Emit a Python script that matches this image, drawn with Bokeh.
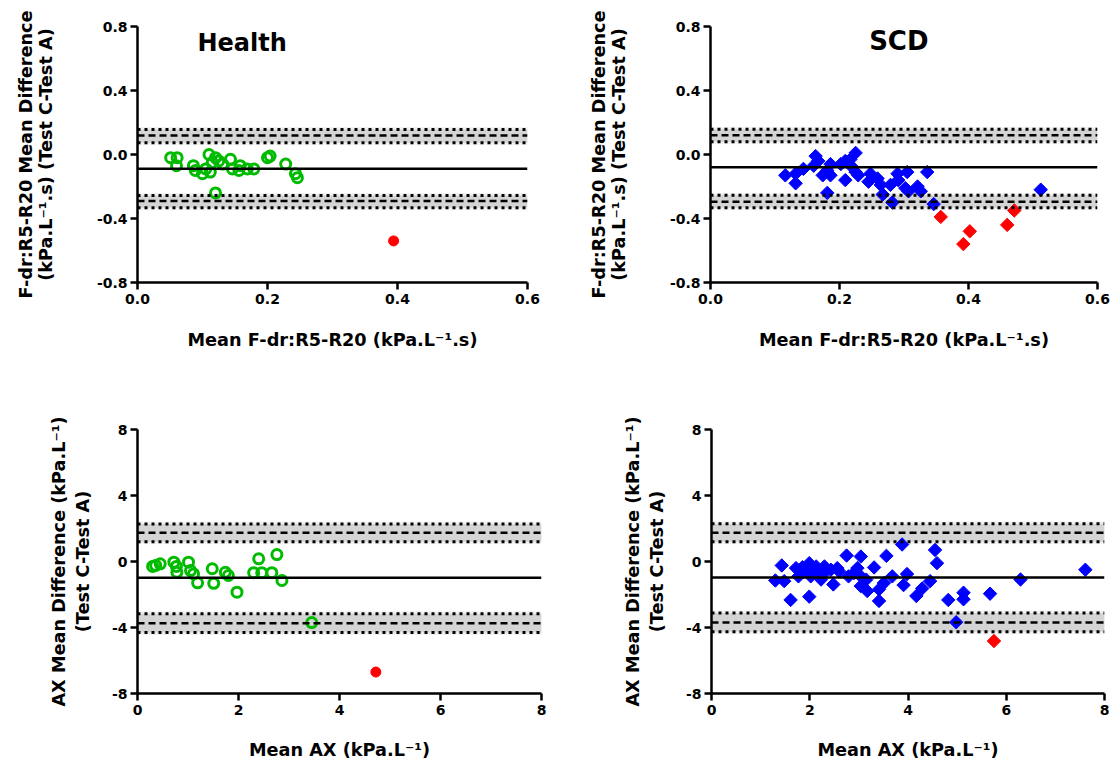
from bokeh.plotting import figure
from bokeh.layouts import column, row
from bokeh.models import Range1d, FixedTicker, PrintfTickFormatter, BoxAnnotation, Span, Label
from bokeh.embed import file_html
from bokeh.resources import INLINE
import numpy as np

FONT = "DejaVu Sans"

# ---------------- data ----------------
# Health, F-dr:R5-R20 (mean, difference)
health_fdr_x = [0.051, 0.061, 0.060, 0.086, 0.089, 0.100, 0.110, 0.112, 0.120, 0.125, 0.120, 0.143,
                0.146, 0.156, 0.169, 0.179, 0.200, 0.204, 0.228, 0.243, 0.246, 0.115, 0.131, 0.158, 0.105]
health_fdr_y = [-0.02, -0.02, -0.07, -0.07, -0.10, -0.12, 0.00, -0.11, -0.02, -0.04, -0.24, -0.03,
                -0.09, -0.10, -0.09, -0.09, -0.02, -0.01, -0.06, -0.12, -0.145, -0.05, -0.06, -0.07, -0.09]
health_fdr_out_x = [0.394]
health_fdr_out_y = [-0.54]

# SCD, F-dr:R5-R20
scd_fdr_x = [0.116, 0.132, 0.132, 0.144, 0.160, 0.163, 0.167, 0.174, 0.181, 0.181, 0.186, 0.186, 0.202,
             0.209, 0.209, 0.217, 0.220, 0.225, 0.225, 0.229, 0.245, 0.248, 0.259, 0.264, 0.267, 0.279,
             0.282, 0.290, 0.291, 0.305, 0.302, 0.307, 0.321, 0.326, 0.336, 0.346, 0.512]
scd_fdr_y = [-0.13, -0.18, -0.12, -0.09, -0.07, -0.01, -0.04, -0.13, -0.10, -0.24, -0.06, -0.13, -0.06,
             -0.04, -0.16, -0.03, -0.08, 0.01, -0.11, -0.13, -0.17, -0.12, -0.15, -0.19, -0.25, -0.19,
             -0.30, -0.12, -0.16, -0.11, -0.21, -0.23, -0.20, -0.23, -0.11, -0.31, -0.22]
scd_fdr_out_x = [0.357, 0.402, 0.392, 0.460, 0.471]
scd_fdr_out_y = [-0.39, -0.48, -0.56, -0.44, -0.35]

# Health, AX
health_ax_x = [0.30, 0.36, 0.45, 0.72, 0.77, 0.78, 1.01, 1.05, 1.11, 1.19, 1.48, 1.51, 1.74, 1.80,
               1.97, 2.30, 2.40, 2.46, 2.66, 2.76, 2.86, 3.45]
health_ax_y = [-0.30, -0.24, -0.14, -0.04, -0.30, -0.65, -0.04, -0.55, -0.75, -1.29, -0.44, -1.32,
               -0.65, -0.85, -1.86, -0.68, 0.16, -0.68, -0.68, 0.42, -1.15, -3.70]
health_ax_out_x = [4.72]
health_ax_out_y = [-6.7]

# SCD, AX
scd_ax_x = [1.30, 1.43, 1.48, 1.61, 1.72, 1.77, 1.85, 1.89, 1.99, 1.99, 2.02, 2.05, 2.13, 2.16, 2.23,
            2.29, 2.30, 2.43, 2.48, 2.56, 2.60, 2.75, 2.79, 2.90, 2.97, 3.04, 3.04, 3.04, 3.15, 3.17,
            3.31, 3.41, 3.41, 3.51, 3.56, 3.68, 3.88, 3.91, 3.98, 4.17, 4.29, 4.45, 4.55, 4.59, 4.82,
            4.98, 5.13, 5.13, 5.67, 6.29, 7.61]
scd_ax_y = [-1.15, -0.24, -1.19, -2.33, -0.40, -0.90, -0.35, -0.60, -0.10, -2.13, -0.90, -0.50, -0.30,
            -0.70, -1.09, -0.70, -0.30, -0.50, -1.39, -0.40, -0.60, 0.36, -0.90, -0.70, -0.40, 0.30,
            -0.90, -1.49, -1.10, -1.79, -0.36, -2.39, -1.69, -1.30, 0.34, -0.90, 1.03, -1.43, -0.76,
            -2.09, -1.63, -1.19, 0.70, -0.10, -2.33, -3.68, -1.89, -2.29, -1.95, -1.09, -0.50]
scd_ax_out_x = [5.75]
scd_ax_out_y = [-4.82]

# Bland-Altman lines: bias, upper LoA (lo, mid, hi), lower LoA (lo, mid, hi)
health_fdr_bias = -0.089
health_fdr_upper = [0.073, 0.119, 0.156]
health_fdr_lower = [-0.333, -0.290, -0.256]
scd_fdr_bias = -0.080
scd_fdr_upper = [0.080, 0.121, 0.158]
scd_fdr_lower = [-0.333, -0.295, -0.255]
health_ax_bias = -0.99
health_ax_upper = [1.19, 1.74, 2.28]
health_ax_lower = [-4.30, -3.74, -3.17]
scd_ax_bias = -0.97
scd_ax_upper = [1.19, 1.75, 2.29]
scd_ax_lower = [-4.26, -3.70, -3.12]

fdr_xticks = [0.0, 0.2, 0.4, 0.6]
fdr_yticks = [-0.8, -0.4, 0.0, 0.4, 0.8]
ax_xticks = [0, 2, 4, 6, 8]
ax_yticks = [-8, -4, 0, 4, 8]

fdr_xlabel = "Mean F-dr:R5-R20 (kPa.L\u207b\u00b9.s)"
fdr_ylabel = "F-dr:R5-R20 Mean Difference\n(kPa.L\u207b\u00b9.s) (Test C-Test A)"
ax_xlabel = "Mean AX (kPa.L\u207b\u00b9)"
ax_ylabel = "AX Mean Difference (kPa.L\u207b\u00b9)\n(Test C-Test A)"

GREEN = "#00bb00"
BLUE = "#0000ff"
RED = "#ff0000"
BAND = "#d4d4d4"


def make_panel(width, height, bl, bt, fw, fh, xr, yr, xticks, yticks, fmt,
               xlabel, ylabel, ylab_standoff, ylab_lh, xlab_standoff):
    p = figure(width=width, height=height, output_backend="svg", toolbar_location=None,
               x_range=Range1d(*xr), y_range=Range1d(*yr),
               min_border_left=bl, min_border_top=bt,
               min_border_right=width - bl - fw, min_border_bottom=height - bt - fh)
    p.xgrid.visible = False
    p.ygrid.visible = False
    p.outline_line_color = None
    for ax, ticks, f in ((p.xaxis[0], xticks, fmt[0]), (p.yaxis[0], yticks, fmt[1])):
        ax.ticker = FixedTicker(ticks=ticks)
        ax.formatter = PrintfTickFormatter(format=f)
        ax.axis_line_width = 2.5
        ax.axis_line_color = "black"
        ax.major_tick_line_width = 2.5
        ax.major_tick_line_color = "black"
        ax.major_tick_out = 7
        ax.major_tick_in = 0
        ax.minor_tick_line_color = None
        ax.major_label_text_font = FONT
        ax.major_label_text_font_style = "bold"
        ax.major_label_text_font_size = "14px"
        ax.major_label_text_color = "black"
        ax.axis_label_text_font = FONT
        ax.axis_label_text_font_style = "bold"
        ax.axis_label_text_font_size = "17.7px"
        ax.axis_label_text_color = "black"
    p.xaxis[0].major_label_standoff = 4
    p.yaxis[0].major_label_standoff = 3
    p.xaxis[0].axis_label = xlabel
    p.yaxis[0].axis_label = ylabel
    p.yaxis[0].axis_label_standoff = ylab_standoff
    p.yaxis[0].axis_label_text_line_height = ylab_lh
    p.xaxis[0].axis_label_standoff = xlab_standoff
    return p


def add_lines(p, bias, upper, lower):
    for lo, mid, hi in (upper, lower):
        p.add_layout(BoxAnnotation(bottom=lo, top=hi, fill_color=BAND, fill_alpha=1.0,
                                   line_color=BAND, line_width=5, level="underlay"))
        for loc in (lo, hi):
            p.add_layout(Span(location=loc, dimension="width", line_color="black",
                              line_width=3, line_dash="3 4"))
        p.add_layout(Span(location=mid, dimension="width", line_color="black",
                          line_width=2.5, line_dash="7 4"))
    p.add_layout(Span(location=bias, dimension="width", line_color="black", line_width=2.5))


def title(p, x, y, text, size):
    p.add_layout(Label(x=x, y=y, text=text, text_font=FONT, text_font_style="bold",
                       text_font_size=size, text_align="center", text_baseline="middle",
                       text_color="black"))


# Top-left: Health F-dr
p1 = make_panel(581, 398, 137, 26, 390, 256, (0, 0.6), (-0.8, 0.8), fdr_xticks, fdr_yticks,
                ("%.1f", "%.1f"), fdr_xlabel, fdr_ylabel, 38, 1.0, 23)
add_lines(p1, health_fdr_bias, health_fdr_upper, health_fdr_lower)
p1.scatter(health_fdr_x, health_fdr_y, marker="circle", size=10, fill_color=None,
           line_color=GREEN, line_width=3)
p1.scatter(health_fdr_out_x, health_fdr_out_y, marker="circle", size=10, fill_color=RED,
           line_color=RED, line_width=1)
title(p1, 0.161, 0.70, "Health", "24px")

# Top-right: SCD F-dr
p2 = make_panel(534, 398, 129, 18, 387, 264, (0, 0.6), (-0.8, 0.8), fdr_xticks, fdr_yticks,
                ("%.1f", "%.1f"), fdr_xlabel, fdr_ylabel, 38, 1.0, 23)
add_lines(p2, scd_fdr_bias, scd_fdr_upper, scd_fdr_lower)
p2.scatter(scd_fdr_x, scd_fdr_y, marker="square", angle=np.pi / 4, size=9.5, fill_color=BLUE,
           line_color=BLUE, line_width=1)
p2.scatter(scd_fdr_out_x, scd_fdr_out_y, marker="square", angle=np.pi / 4, size=9.5, fill_color=RED,
           line_color=RED, line_width=1)
title(p2, 0.292, 0.71, "SCD", "26px")

# Bottom-left: Health AX
p3 = make_panel(581, 365, 137, 31, 404, 264, (0, 8), (-8, 8), ax_xticks, ax_yticks,
                ("%d", "%d"), ax_xlabel, ax_ylabel, 16, 1.2, 22)
add_lines(p3, health_ax_bias, health_ax_upper, health_ax_lower)
p3.scatter(health_ax_x, health_ax_y, marker="circle", size=10, fill_color=None,
           line_color=GREEN, line_width=3)
p3.scatter(health_ax_out_x, health_ax_out_y, marker="circle", size=10, fill_color=RED,
           line_color=RED, line_width=1)

# Bottom-right: SCD AX
p4 = make_panel(534, 365, 130, 29, 393, 267, (0, 8), (-8, 8), ax_xticks, ax_yticks,
                ("%d", "%d"), ax_xlabel, ax_ylabel, 16, 1.2, 22)
add_lines(p4, scd_ax_bias, scd_ax_upper, scd_ax_lower)
p4.scatter(scd_ax_x, scd_ax_y, marker="square", angle=np.pi / 4, size=9.5, fill_color=BLUE,
           line_color=BLUE, line_width=1)
p4.scatter(scd_ax_out_x, scd_ax_out_y, marker="square", angle=np.pi / 4, size=9.5, fill_color=RED,
           line_color=RED, line_width=1)

layout = column(row(p1, p2), row(p3, p4))
open("out.html", "w").write(file_html(layout, INLINE))
